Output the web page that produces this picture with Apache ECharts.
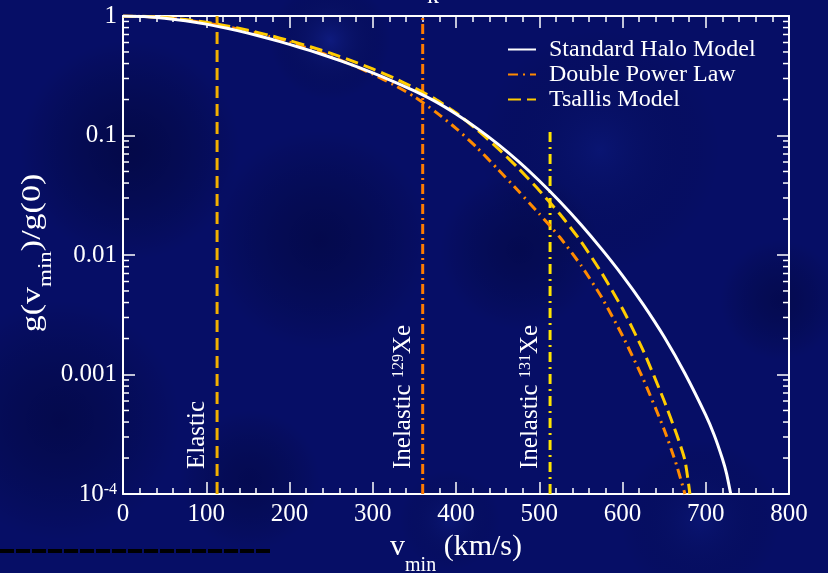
<!DOCTYPE html>
<html>
<head>
<meta charset="utf-8">
<script src="https://cdn.jsdelivr.net/npm/echarts@6/dist/echarts.min.js"></script>
<style>html,body{margin:0;padding:0;background:#060e66;}#c{width:828px;height:573px;}</style>
</head>
<body>
<div id="c"></div>
<script>
// ---- data ----
const shmV = [0,25,50,75,100,125,150,175,200,225,250,275,300,325,350,375,400,425,450,475,500,525,550,575,600,625,650,675,700,710,720,725,730];
const shmG = [1,0.9886,0.9594,0.9141,0.8551,0.7889,0.7194,0.6486,0.5794,0.5129,0.4498,0.3899,0.3342,0.2825,0.2360,0.1928,0.1514,0.1153,0.0851,0.0607,0.0418,0.0279,0.0180,0.0112,0.00673,0.00385,0.00207,0.00102,0.000457,0.000313,0.000197,0.000148,0.0001];

const dplV = [0,25,50,75,100,125,150,175,200,225,250,275,300,325,350,375,400,425,450,475,500,525,550,575,600,625,650,665,675];
const dplG = [1,0.9908,0.9661,0.9247,0.8730,0.8128,0.7464,0.6761,0.6026,0.5297,0.4581,0.3899,0.3258,0.2661,0.2113,0.1585,0.1148,0.0794,0.0525,0.0343,0.0221,0.0140,0.00822,0.00442,0.00211,0.000912,0.000347,0.000174,0.0001];

const tsV = [0,25,50,75,100,125,150,175,200,225,250,275,300,325,350,375,400,425,450,475,500,525,550,575,600,625,650,665,675,681];
const tsG = [1,0.9931,0.9705,0.9333,0.8851,0.8260,0.7603,0.6918,0.6223,0.5534,0.4864,0.4217,0.3606,0.3034,0.2506,0.2018,0.1549,0.1122,0.0785,0.0531,0.0347,0.0219,0.0130,0.00708,0.00355,0.00158,0.000603,0.000316,0.000191,0.0001];

const thrV = [113, 360, 513];
const thrTop = [1, 1, 0.107];
const thrBottom = 0.0001;
const thrNames = ['Elastic', 'Inelastic 129Xe', 'Inelastic 131Xe'];

const seriesNames = ['Standard Halo Model', 'Double Power Law', 'Tsallis Model'];
const yTickLabels = {0:'1', '-1':'0.1', '-2':'0.01', '-3':'0.001', '-4':'{b|10}{s|-4}'};

// ---- styling ----
const FONT = 'Liberation Serif';
const W = '#ffffff';
const cSHM = '#ffffff', cDPL = '#ff8a00', cTS = '#ffcc00';
const cThr = ['#f2b000', '#ff7a00', '#ffe400'];
const dThr = [[12,6], [10,4,2,4], [10,5,2,5]];

const chart = echarts.init(document.getElementById('c'), null, {renderer:'canvas'});

function pairs(xs, ys){ return xs.map((x,i)=>[x, ys[i]]); }

const minorVals = [];
for (let d=-4; d<0; d++) for (let k=2; k<=9; k++) minorVals.push([0, k*Math.pow(10,d)]);

const axisCommon = {
  axisLine:{show:true, onZero:false, lineStyle:{color:W, width:2}},
  splitLine:{show:false}
};
const nameRichX = {
  m:{fontSize:30, fontFamily:FONT, color:W, lineHeight:30, verticalAlign:'top'},
  sub:{fontSize:20, fontFamily:FONT, color:W, lineHeight:20, verticalAlign:'top', padding:[24,0,0,0]}
};
const nameRichY = {
  m:{fontSize:34, fontFamily:FONT, color:W, lineHeight:34, verticalAlign:'top'},
  sub:{fontSize:23, fontFamily:FONT, color:W, lineHeight:23, verticalAlign:'top', padding:[22,0,0,0]}
};

const option = {
  backgroundColor:'#060e66',
  animation:false,
  grid:{left:123, top:16, right:39, bottom:79, containLabel:false, outerBoundsMode:'none'},
  legend:{
    data: seriesNames,
    orient:'vertical', left:502, top:32, itemGap:0,
    itemWidth:28, itemHeight:14,
    itemStyle:{opacity:0},
    textStyle:{color:W, fontSize:24, fontFamily:FONT, padding:[0,0,0,8], lineHeight:25},
    inactiveColor:'#888'
  },
  xAxis:[
    Object.assign({}, axisCommon, {
      type:'value', min:0, max:800, interval:100, position:'bottom',
      axisTick:{show:true, inside:true, length:12, lineStyle:{color:W, width:1.5}},
      minorTick:{show:true, splitNumber:5, length:6, lineStyle:{color:W, width:1.5}},
      axisLabel:{color:W, fontSize:25, fontFamily:FONT, margin:8},
      name:'{m|v}{sub|min}{m| (km/s)}', nameLocation:'middle', nameGap:36,
      nameTextStyle:{rich:nameRichX}
    }),
    Object.assign({}, axisCommon, {
      type:'value', min:0, max:800, interval:100, position:'top',
      axisTick:{show:true, inside:true, length:12, lineStyle:{color:W, width:1.5}},
      minorTick:{show:true, splitNumber:5, length:6, lineStyle:{color:W, width:1.5}},
      axisLabel:{show:false}
    })
  ],
  yAxis:[
    Object.assign({}, axisCommon, {
      type:'log', logBase:10, min:0.0001, max:1, position:'left',
      axisTick:{show:true, inside:true, length:12, lineStyle:{color:W, width:1.5}},
      axisLabel:{color:W, fontSize:25, fontFamily:FONT, margin:6,
        formatter:function(v){ const e = Math.round(Math.log10(v)); return yTickLabels[e] || ''; },
        rich:{
          b:{fontSize:25, fontFamily:FONT, color:W, lineHeight:25, verticalAlign:'bottom'},
          s:{fontSize:16, fontFamily:FONT, color:W, lineHeight:16, verticalAlign:'top', padding:[0,0,15,0]}
        }
      }
    }),
    Object.assign({}, axisCommon, {
      type:'log', logBase:10, min:0.0001, max:1, position:'right',
      axisTick:{show:true, inside:true, length:12, lineStyle:{color:W, width:1.5}},
      axisLabel:{show:false}
    })
  ],
  series:[
    {name:seriesNames[0], type:'line', data:pairs(shmV, shmG), symbol:'none', smooth:0.2,
     lineStyle:{color:cSHM, width:3}, itemStyle:{color:cSHM}, z:5},
    {name:seriesNames[1], type:'line', data:pairs(dplV, dplG), symbol:'none', smooth:0.2,
     lineStyle:{color:cDPL, width:3, type:[10,5,2,5]}, itemStyle:{color:cDPL}, z:4},
    {name:seriesNames[2], type:'line', data:pairs(tsV, tsG), symbol:'none', smooth:0.2,
     lineStyle:{color:cTS, width:3, type:[13,6]}, itemStyle:{color:cTS}, z:4},
    ...thrV.map((v,i)=>({
      name:'thr'+i, type:'line', data:[[v, thrBottom],[v, thrTop[i]]], symbol:'none',
      lineStyle:{color:cThr[i], width:3, type:dThr[i]}, z:3, silent:true
    })),
    {type:'custom', silent:true, z:6, clip:false, data:minorVals,
     renderItem:function(params, api){
       const pl = api.coord([0, api.value(1)]);
       const pr = api.coord([800, api.value(1)]);
       return {type:'group', children:[
         {type:'line', shape:{x1:pl[0], y1:pl[1], x2:pl[0]+6, y2:pl[1]}, style:{stroke:W, lineWidth:1.5}},
         {type:'line', shape:{x1:pr[0]-6, y1:pr[1], x2:pr[0], y2:pr[1]}, style:{stroke:W, lineWidth:1.5}}
       ]};
     }}
  ]
};
chart.setOption(option);

// labels on threshold lines, positioned through the axes
const labRich = {
  a:{fontSize:25, fontFamily:FONT, color:W, lineHeight:25, verticalAlign:'bottom'},
  s:{fontSize:16, fontFamily:FONT, color:W, lineHeight:16, verticalAlign:'top', padding:[0,0,13,0]}
};
const labTexts = ['{a|Elastic}', '{a|Inelastic }{s|129}{a|Xe}', '{a|Inelastic }{s|131}{a|Xe}'];
const gr = [];
// background texture blotches
const blotches = [
  [330,40,160,60,'rgba(30,50,170,0.35)'],[600,150,200,120,'rgba(20,40,150,0.25)'],
  [130,150,110,120,'rgba(0,0,30,0.4)'],[320,240,120,110,'rgba(0,0,30,0.35)'],
  [520,250,80,90,'rgba(0,0,30,0.3)'],[60,420,120,150,'rgba(0,0,30,0.35)'],
  [700,520,180,80,'rgba(20,40,150,0.25)'],[250,480,140,70,'rgba(0,0,35,0.3)'],
  [780,300,60,200,'rgba(0,0,30,0.3)'],[450,520,120,50,'rgba(25,45,160,0.25)']
];
blotches.forEach(b=>{
  gr.push({type:'ellipse', silent:true, z:-10, shape:{cx:b[0], cy:b[1], rx:b[2], ry:b[3]},
    style:{fill:{type:'radial', x:0.5, y:0.5, r:0.5, colorStops:[{offset:0,color:b[4]},{offset:1,color:'rgba(0,0,0,0)'}]}}});
});
thrV.forEach((v,i)=>{
  const p = chart.convertToPixel({xAxisIndex:0, yAxisIndex:0}, [v, thrBottom]);
  gr.push({type:'text', x:p[0]-7, y:p[1]-25, rotation:Math.PI/2, z:10, silent:true,
    style:{text:labTexts[i], rich:labRich, align:'left', verticalAlign:'bottom', fill:W}});
});
// y axis title, centred on the axis middle
const yMid = chart.convertToPixel({yAxisIndex:0}, 0.01);
gr.push({type:'text', x:33, y:yMid - 2, rotation:Math.PI/2, scaleY:0.8, z:10, silent:true,
  style:{text:'{m|g(v}{sub|min}{m|)/g(0)}', rich:nameRichY, align:'center', verticalAlign:'middle', fill:W}});
// partially visible title glyph at the top edge
gr.push({type:'text', x:433, y:9, z:10, silent:true,
  style:{text:'k', font:'24px "Liberation Serif"', fill:W, align:'center', verticalAlign:'bottom'}});
// dark stroke at lower left
gr.push({type:'line', silent:true, z:10, shape:{x1:0, y1:551, x2:270, y2:551},
  style:{stroke:'#000000', lineWidth:4, lineDash:[14,2]}});
chart.setOption({graphic:{elements:gr}});
</script>
</body>
</html>
